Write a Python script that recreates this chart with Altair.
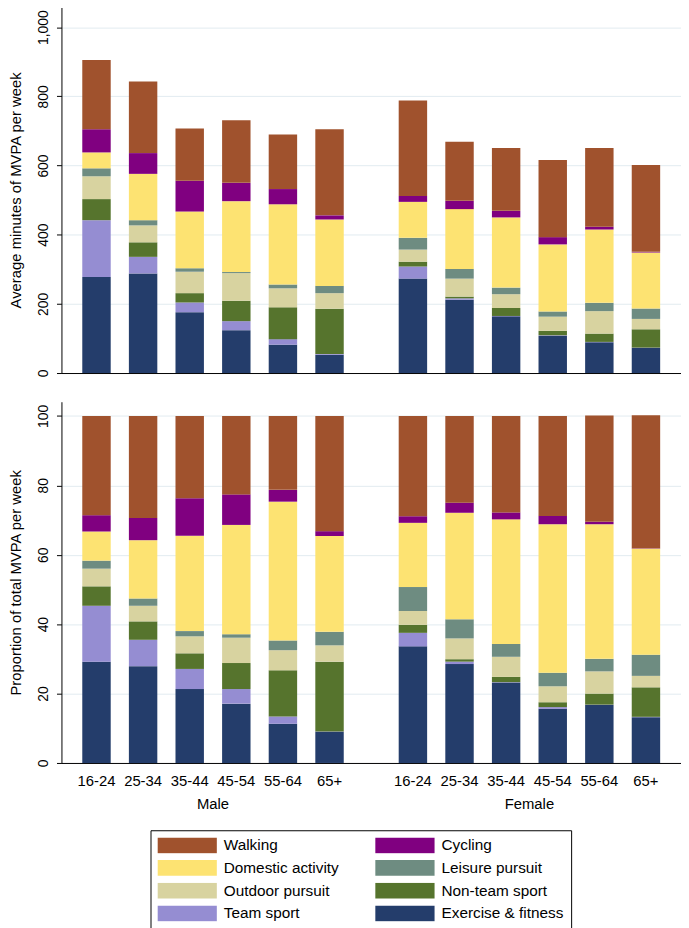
import altair as alt
import pandas as pd

sexes = ["Male", "Female"]
ages = ["16-24", "25-34", "35-44", "45-54", "55-64", "65+"]

# legend order (filled column by column: left column, then right column)
activities = ["Walking", "Domestic activity", "Outdoor pursuit", "Team sport",
              "Cycling", "Leisure pursuit", "Non-team sport", "Exercise & fitness"]
colors = ["#A0522D", "#FDE372", "#D8D3A0", "#958DD2",
          "#800080", "#6E8C81", "#56742D", "#243D6B"]
# stacking order, bottom to top
stack_order = ["Exercise & fitness", "Team sport", "Non-team sport", "Outdoor pursuit",
               "Leisure pursuit", "Domestic activity", "Cycling", "Walking"]

# values: Male 16-24 ... 65+, then Female 16-24 ... 65+
minutes = {
    "Exercise & fitness": [278, 288, 176, 124, 82, 53, 273, 212, 164, 107, 89, 73],
    "Team sport":         [164, 48, 28, 26, 16, 2, 35, 4, 1, 2, 1, 0.5],
    "Non-team sport":     [61, 42, 27, 59, 92, 131, 14, 5, 23, 13, 24, 53],
    "Outdoor pursuit":    [66, 49, 62, 80, 55, 45, 35, 52, 40, 41, 65, 30],
    "Leisure pursuit":    [23, 15, 10, 3, 11, 21, 34, 28, 19, 15, 24, 30],
    "Domestic activity":  [46, 134, 164, 205, 232, 192, 104, 173, 203, 194, 212, 162],
    "Cycling":            [67, 60, 89, 53, 44, 12, 17, 24, 19, 21, 8, 2],
    "Walking":            [200, 207, 151, 181, 158, 249, 276, 171, 182, 223, 228, 251],
}
percent = {
    "Exercise & fitness": [29.2, 27.9, 21.3, 17.1, 11.3, 9.0, 33.6, 28.5, 23.2, 15.6, 16.7, 13.2],
    "Team sport":         [16.1, 7.6, 5.8, 4.2, 2.1, 0.1, 3.9, 0.7, 0.1, 0.5, 0.1, 0.1],
    "Non-team sport":     [5.6, 5.3, 4.5, 7.5, 13.3, 20.1, 2.3, 0.7, 1.5, 1.4, 3.2, 8.5],
    "Outdoor pursuit":    [5.1, 4.5, 4.9, 7.3, 5.8, 4.7, 4.0, 6.0, 5.8, 4.6, 6.4, 3.3],
    "Leisure pursuit":    [2.3, 2.1, 1.5, 1.0, 2.8, 3.9, 6.9, 5.5, 3.7, 3.9, 3.6, 6.1],
    "Domestic activity":  [8.4, 16.8, 27.5, 31.5, 40.0, 27.6, 18.5, 30.7, 35.9, 42.8, 38.8, 30.6],
    "Cycling":            [4.7, 6.4, 10.8, 8.8, 3.4, 1.4, 1.9, 2.9, 2.0, 2.4, 0.7, 0.1],
    "Walking":            [28.6, 29.4, 23.7, 22.6, 21.3, 33.2, 28.9, 25.0, 27.8, 28.8, 30.6, 38.3],
}

rows = []
for act in stack_order:
    for i in range(12):
        rows.append({
            "sex": sexes[i // 6],
            "age": ages[i % 6],
            "activity": act,
            "stack": stack_order.index(act),
            "minutes": minutes[act][i],
            "pct": percent[act][i],
        })
df = pd.DataFrame(rows)

FONT = "Liberation Sans"
W = 626
H1 = 370
H2 = 365

x_scale = alt.Scale(paddingInner=0.042, paddingOuter=0)
xoff = alt.XOffset("age:N", sort=ages,
                   scale=alt.Scale(paddingInner=0.39, paddingOuter=0.447))

sym = "M-1,-0.2667L1,-0.2667L1,0.2667L-1,0.2667Z"
color = alt.Color(
    "activity:N",
    scale=alt.Scale(domain=activities, range=colors),
    legend=alt.Legend(
        title=None, orient="none", legendX=90, legendY=832,
        columns=2, symbolType=sym, symbolSize=3600, symbolStrokeWidth=0,
        clipHeight=16,
        labelFontSize=15.5, labelFont=FONT, labelColor="black", labelOffset=7,
        strokeColor="black", padding=7, rowPadding=6, columnPadding=36,
        labelLimit=300,
    ),
)
order = alt.Order("stack:Q", sort="ascending")

yaxis_common = dict(
    labelAngle=270, labelAlign="center", labelBaseline="bottom",
    labelFontSize=14, labelPadding=6, tickSize=5, tickColor="black",
    domainColor="black", titleFontSize=15, titleFontWeight="normal",
    titleColor="black", labelColor="black", titlePadding=13,
    gridColor="#E2EBF0", gridWidth=1,
)

top = alt.Chart(df).mark_bar().encode(
    x=alt.X("sex:N", sort=sexes, scale=x_scale,
            axis=alt.Axis(title=None, labels=False, ticks=False, grid=False,
                          domainColor="black")),
    xOffset=xoff,
    y=alt.Y("minutes:Q", stack="zero",
            scale=alt.Scale(domain=[0, 1059], nice=False, zero=True),
            axis=alt.Axis(values=[0, 200, 400, 600, 800, 1000], format=",d",
                          title="Average minutes of MVPA per week", **yaxis_common)),
    color=color,
    order=order,
).properties(width=W, height=H1)

bars2 = alt.Chart(df).mark_bar().encode(
    x=alt.X("sex:N", sort=sexes, scale=x_scale,
            axis=alt.Axis(title=None, ticks=False, grid=False, domainColor="black",
                          labelFontSize=15, labelFont=FONT, labelColor="black",
                          labelPadding=34, labelAngle=0)),
    xOffset=xoff,
    y=alt.Y("pct:Q", stack="zero",
            scale=alt.Scale(domain=[0, 104.1], nice=False, zero=True),
            axis=alt.Axis(values=[0, 20, 40, 60, 80, 100], format="d",
                          title="Proportion of total MVPA per week", **yaxis_common)),
    color=color,
    order=order,
)

age_labels = alt.Chart(df).transform_filter(
    alt.datum.activity == "Walking"
).mark_text(fontSize=15, font=FONT, color="black", baseline="middle").encode(
    x=alt.X("sex:N", sort=sexes, scale=x_scale),
    xOffset=xoff,
    y=alt.value(H2 + 18),
    text="age:N",
)

bottom = alt.layer(bars2, age_labels).properties(width=W, height=H2)

chart = alt.vconcat(top, bottom, spacing=25).configure_view(
    stroke=None
).configure_axis(
    labelFont=FONT, titleFont=FONT,
).properties(
    padding={"left": 1, "top": -6, "right": 0, "bottom": 0}
)

chart.save("out.html", embed_options={"renderer": "svg", "actions": False})
